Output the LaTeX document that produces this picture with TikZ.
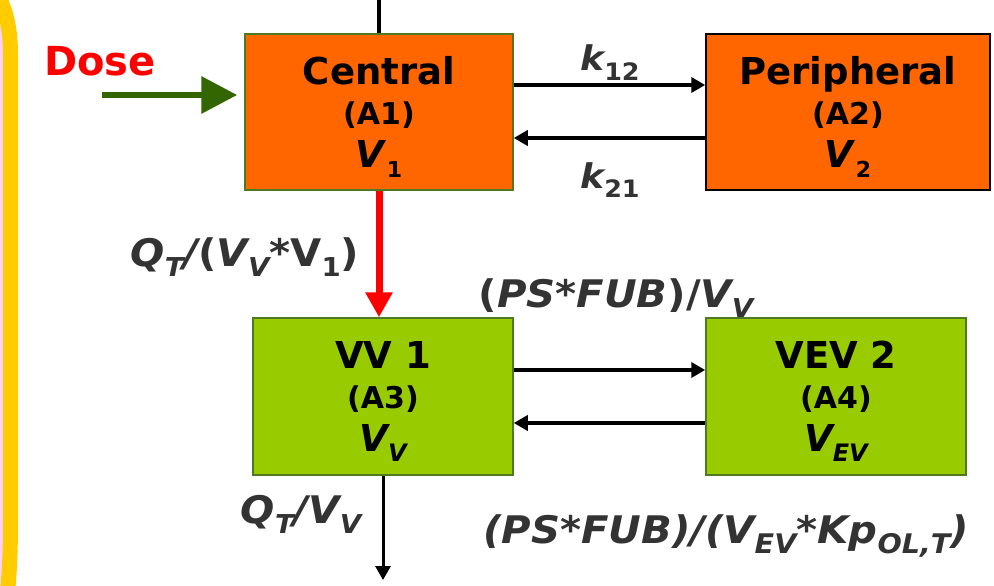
\documentclass[tikz,border=0pt]{standalone}
\usepackage{fontspec}
\setmainfont{DejaVu Sans}
\newfontfamily\ratefont[FakeStretch=1.06]{DejaVu Sans}
\usetikzlibrary{arrows.meta}
\definecolor{pkorange}{RGB}{255,102,0}
\definecolor{pkgreen}{RGB}{153,204,0}
\definecolor{pkedge}{RGB}{79,121,33}
\definecolor{dosegreen}{RGB}{51,102,0}
\definecolor{frameyellow}{RGB}{255,204,0}
\definecolor{framepink}{RGB}{255,208,245}
\definecolor{labelgray}{RGB}{51,51,51}
\newcommand{\sbs}[2][22]{\raisebox{-0.5ex}[0pt][0pt]{\fontsize{#1}{#1}\selectfont #2}}
\newcommand{\cmpid}[1]{{\fontsize{30}{40}\selectfont (#1)}}

\begin{document}
\begin{tikzpicture}[x=1pt,y=-1pt,
  comp/.style={draw=pkedge, line width=1.5pt, align=center, inner sep=0pt,
    font=\bfseries\fontsize{37}{40}\selectfont},
  flow/.style={-{Triangle[length=14pt,width=15pt]}, line width=3.5pt},
  rate/.style={text=labelgray, inner sep=0pt, anchor=base,
    font=\ratefont\bfseries\itshape\fontsize{38}{40}\selectfont}]
  \clip (0,0) rectangle (994,586);

  % Frame at the left edge
  \draw[frameyellow, line width=15pt, fill=framepink]
    (-40,-35) .. controls (3,-20) and (10.5,20) .. (10.5,55) -- (10.5,520)
    .. controls (10.5,560) and (9,600) .. (0,640) -- (-40,640) -- cycle;

  % Compartments
  \node[comp, fill=pkorange, minimum width=268pt, minimum height=156pt] (central) at (379,112)
    {Central\\\cmpid{A1}\\[3pt]\textit{V}\sbs{1}};
  \node[comp, fill=pkorange, draw=black, minimum width=284pt, minimum height=156pt] (periph) at (848,112)
    {Peripheral\\\cmpid{A2}\\[3pt]\textit{V}\sbs{2}};
  \node[comp, fill=pkgreen, minimum width=260pt, minimum height=157pt] (vv) at (383,396.5)
    {VV 1\\\cmpid{A3}\\[3pt]\textit{V\sbs[24]{V}}};
  \node[comp, fill=pkgreen, minimum width=260pt, minimum height=157pt] (vev) at (836,396.5)
    {VEV 2\\\cmpid{A4}\\[3pt]\textit{V\sbs[24]{EV}}};

  % Dose input
  \node[text=red, inner sep=0pt, anchor=base, font=\bfseries\fontsize{40}{40}\selectfont] (dose) at (100,76) {Dose};
  \coordinate (dosestart) at (102,95);
  \draw[dosegreen, line width=6.5pt, -{Triangle[length=36pt,width=36pt]}]
    (dosestart) -- ([xshift=-7pt,yshift=17pt]central.west);

  % Line into the top
  \coordinate (feed) at (379,0);
  \draw[line width=3.5pt] (feed) -- (central.north);

  % Exchange arrows
  \draw[flow] ([yshift=27pt]central.east) -- ([yshift=27pt]periph.west);
  \draw[flow] ([yshift=-26pt]periph.west) -- ([yshift=-26pt]central.east);
  \draw[flow] ([yshift=26.5pt]vv.east) -- ([yshift=26.5pt]vev.west);
  \draw[flow] ([yshift=-26.5pt]vev.west) -- ([yshift=-26.5pt]vv.east);

  % Central to VV and outflow
  \draw[red, line width=7pt, -{Triangle[length=25pt,width=26pt]}]
    (central.south) -- (central.south |- vv.north);
  \coordinate (out) at (386,580);
  \draw[flow, line width=3pt] (vv.south) -- (vv.south |- out);

  % Rate labels
  \node[rate, font=\ratefont\bfseries\itshape\fontsize{34}{40}\selectfont] (k12) at (610,71) {k\sbs[24]{\upshape 12}};
  \node[rate, font=\ratefont\bfseries\itshape\fontsize{34}{40}\selectfont] (k21) at (610,188) {k\sbs[24]{\upshape 21}};
  \node[rate] (qin) at (245,266) {Q\sbs[26]{T}/{\upshape (}V\sbs[26]{V}{\upshape *V}\sbs[26]{\upshape 1}{\upshape )}};
  \node[rate] (psin) at (616,307) {{\upshape (}PS*FUB{\upshape )/}V\sbs[26]{V}};
  \node[rate] (qout) at (301,523) {Q\sbs[26]{T}/V\sbs[26]{V}};
  \node[rate] (psout) at (726,543) {(PS*FUB)/(V\sbs[27]{EV}*Kp\sbs[27]{OL,T})};
\end{tikzpicture}
\end{document}
